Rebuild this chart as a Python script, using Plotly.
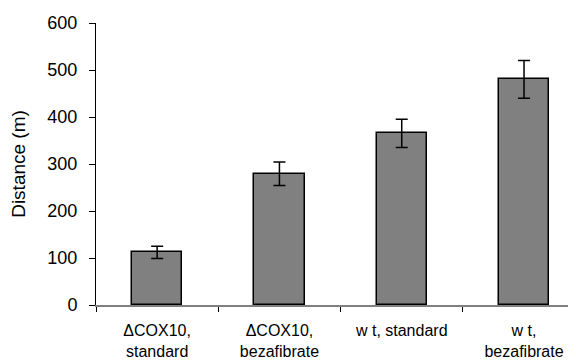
import plotly.graph_objects as go

categories = ["ΔCOX10,<br>standard", "ΔCOX10,<br>bezafibrate", "w t, standard", "w t,<br>bezafibrate"]
distance = [112, 279, 365, 480]
errors = [13, 25, 30, 40]
y_ticks = [0, 100, 200, 300, 400, 500, 600]

fig = go.Figure(go.Bar(
    x=categories, y=distance,
    width=0.41,
    marker=dict(color="#808080", line=dict(color="black", width=1.5)),
    error_y=dict(type="data", array=errors, color="black", thickness=1.5, width=6),
))

fig.update_layout(
    width=568, height=355,
    margin=dict(l=88, r=0, t=15, b=58),
    paper_bgcolor="white", plot_bgcolor="white",
    font=dict(family="Liberation Sans, Arial, sans-serif", color="black"),
    showlegend=False,
    bargap=0,
)
fig.update_xaxes(
    type="category", range=[-0.5, 3.425], automargin=False,
    showline=True, linecolor="#808080", linewidth=1.5,
    ticks="outside", tickson="boundaries", ticklen=5, tickcolor="black",
    ticklabelstandoff=10,
    tickfont=dict(size=16), showgrid=False, zeroline=False,
)
fig.update_yaxes(
    range=[0, 600], tickvals=y_ticks, automargin=False,
    showline=True, linecolor="black", linewidth=1,
    ticks="outside", ticklen=6, tickcolor="black", ticklabelstandoff=8,
    tickfont=dict(size=18), showgrid=False, zeroline=False,
    title=dict(text="Distance (m)", font=dict(size=19), standoff=20),
)

fig.write_html("out.html")
